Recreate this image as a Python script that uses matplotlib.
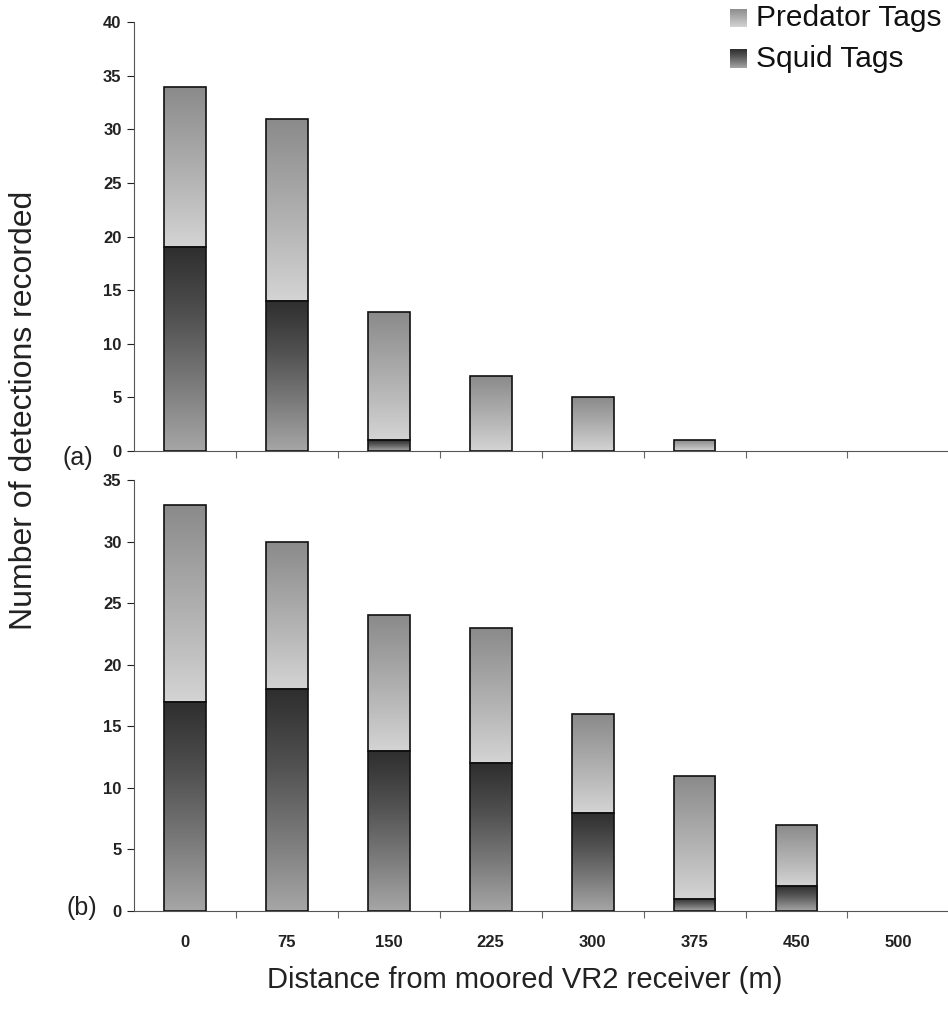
import numpy as np
import matplotlib
matplotlib.use('Agg')
import matplotlib.pyplot as plt
from matplotlib.colors import LinearSegmentedColormap

plt.rcParams['font.family'] = ['Liberation Sans', 'DejaVu Sans']

# ── Data ──────────────────────────────────────────────────────────────────────
distances = ['0', '75', '150', '225', '300', '375', '450', '500']

squid_a    = [19, 14, 1, 0, 0, 0, 0, 0]
predator_a = [15, 17, 12, 7, 5, 1, 0, 0]

squid_b    = [17, 18, 13, 12, 8, 1, 2, 0]
predator_b = [16, 12, 11, 11, 8, 10, 5, 0]

# ── Gradient fills (bottom colour -> top colour) ─────────────────────────────
PRED_CMAP  = LinearSegmentedColormap.from_list(
    'pred', ['#d4d4d4', '#bababa', '#a2a2a2', '#8a8a8a'])
SQUID_CMAP = LinearSegmentedColormap.from_list(
    'squid', ['#a6a6a6', '#7a7a7a', '#505050', '#2e2e2e'])
GRAD = np.linspace(0, 1, 256).reshape(-1, 1)

BAR_W = 0.41


def gradient_bars(ax, x, heights, bottoms, cmap):
    bars = ax.bar(x, heights, BAR_W, bottom=bottoms, facecolor='none',
                  edgecolor='#111111', linewidth=1.2, zorder=3)
    for rect, h in zip(bars, heights):
        if h <= 0:
            rect.set_visible(False)
            continue
        x0, y0 = rect.get_x(), rect.get_y()
        im = ax.imshow(GRAD, cmap=cmap, aspect='auto', origin='lower',
                       extent=(x0, x0 + rect.get_width(), y0, y0 + h),
                       zorder=2, interpolation='bilinear')
        im.set_clip_path(rect)
    return bars


def style_axis(ax, ymax, step, show_xlabels):
    ax.set_xlim(-0.5, len(distances) - 0.5)
    ax.set_ylim(0, ymax)
    ax.set_yticks(np.arange(0, ymax + 1, step))
    ax.tick_params(axis='y', direction='out', length=5, width=0.8,
                   labelsize=12, colors='#222222', pad=4)
    for lbl in ax.get_yticklabels():
        lbl.set_fontweight('bold')
    # x ticks sit between categories
    ax.set_xticks(np.arange(-0.5, len(distances) - 0.5, 1.0)[1:], minor=True)
    ax.set_xticks(np.arange(len(distances)))
    ax.tick_params(axis='x', which='major', length=0, pad=17)
    ax.tick_params(axis='x', which='minor', direction='out', length=5,
                   width=0.8, color='#666666')
    if show_xlabels:
        ax.set_xticklabels(distances, fontsize=12, fontweight='bold',
                           color='#222222')
    else:
        ax.set_xticklabels([])
    ax.spines['top'].set_visible(False)
    ax.spines['right'].set_visible(False)
    ax.spines['left'].set_color('#555555')
    ax.spines['bottom'].set_color('#555555')
    ax.spines['left'].set_linewidth(0.8)
    ax.spines['bottom'].set_linewidth(0.8)


fig = plt.figure(figsize=(9.48, 10.09), dpi=100, facecolor='white')
ax_a = fig.add_axes([0.1414, 0.553, 0.86, 0.425])
ax_b = fig.add_axes([0.1414, 0.0971, 0.86, 0.4272])

x = np.arange(len(distances))

gradient_bars(ax_a, x, squid_a, 0, SQUID_CMAP)
gradient_bars(ax_a, x, predator_a, squid_a, PRED_CMAP)
style_axis(ax_a, 40, 5, False)

gradient_bars(ax_b, x, squid_b, 0, SQUID_CMAP)
gradient_bars(ax_b, x, predator_b, squid_b, PRED_CMAP)
style_axis(ax_b, 35, 5, True)

# panel tags
ax_a.text(-0.088, -0.016, '(a)', transform=ax_a.transAxes, fontsize=18,
          ha='left', va='center', color='#222222')
ax_b.text(-0.083, 0.006, '(b)', transform=ax_b.transAxes, fontsize=18,
          ha='left', va='center', color='#222222')

fig.text(0.025, 0.593, 'Number of detections recorded', rotation=90,
         ha='center', va='center', fontsize=23, color='#222222')
fig.text(0.553, 0.029, 'Distance from moored VR2 receiver (m)',
         ha='center', va='center', fontsize=21, color='#222222')

# legend
for i, (label, cmap) in enumerate([('Predator Tags', PRED_CMAP),
                                   ('Squid Tags', SQUID_CMAP)]):
    yc = 0.982 - i * 0.040
    sw = fig.add_axes([0.770, yc - 0.009, 0.017, 0.018])
    sw.imshow(GRAD, cmap=cmap, aspect='auto', origin='lower')
    sw.axis('off')
    fig.text(0.797, yc, label, ha='left', va='center', fontsize=21.5,
             color='#111111')

fig.savefig('out.png', dpi=100, facecolor='white')
